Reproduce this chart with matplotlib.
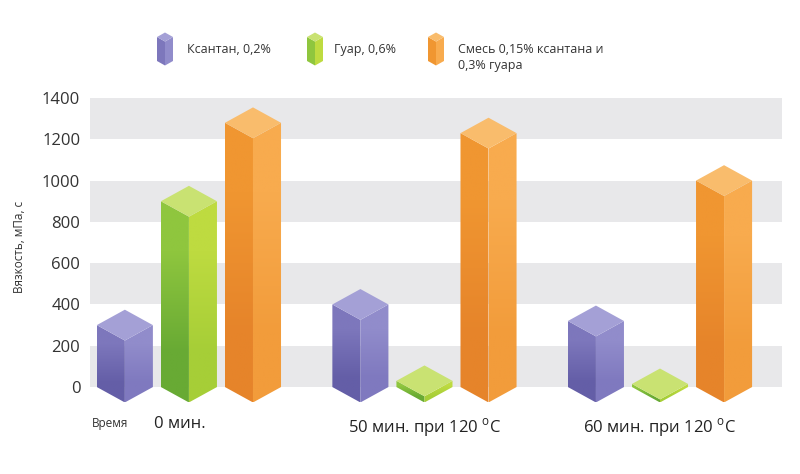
import numpy as np
import matplotlib.pyplot as plt
import matplotlib.transforms as mtransforms
from matplotlib.patches import Polygon
from matplotlib.colors import to_rgb

groups = ['0 мин.', '50 мин. при 120 $^\\mathregular{o}$C', '60 мин. при 120 $^\\mathregular{o}$C']
series = ['Ксантан, 0,2%', 'Гуар, 0,6%', 'Смесь 0,15% ксантана и\n0,3% гуара']
xanthan = [300, 400, 320]
guar = [900, 30, 15]
mix = [1280, 1230, 1000]
values = [xanthan, guar, mix]
yticks = [0, 200, 400, 600, 800, 1000, 1200, 1400]

# (left bottom, left top, right bottom, right top, top)
palette = [
    ('#645ea7', '#7d77bc', '#7f79bf', '#918ccb', '#a4a0d6'),
    ('#68aa34', '#8fc63e', '#a6ce37', '#bedb40', '#c9e272'),
    ('#e6842a', '#f09631', '#f29c3b', '#f8ab4e', '#f9bc6c'),
]

plt.rcParams['font.family'] = ['Open Sans', 'DejaVu Sans']
W, H = 800, 474
fig = plt.figure(figsize=(8, 4.74), dpi=100)
ax = fig.add_axes([90 / W, 0.1312, 692 / W, 0.7932 - 0.1312])

ymin, ymax = -120, 1400
xmin, xmax = -0.42, 2.518
gap = 0.272
hw = 0.119

for lo in (0, 400, 800, 1200):
    ax.axhspan(lo, lo + 200, color='#e8e8ea', lw=0, zorder=0)

px_x = 692 / (xmax - xmin)
px_y = (0.7932 - 0.1312) * H / (ymax - ymin)
d = hw * px_x * 0.55 / px_y


def grad_face(ax, pts, c0, c1, z):
    poly = Polygon(pts, closed=True, facecolor='none', edgecolor='none', zorder=z)
    ax.add_patch(poly)
    xs = [p[0] for p in pts]
    ys = [p[1] for p in pts]
    img = np.array([[to_rgb(c0)], [to_rgb(c1)]])
    im = ax.imshow(img, extent=(min(xs), max(xs), min(ys), max(ys)), origin='lower',
                   aspect='auto', interpolation='bilinear', zorder=z)
    im.set_clip_path(poly)


def box(ax, xc, v, hw, d, cols, z=3):
    x0, x1 = xc - hw, xc + hw
    left = [(x0, 0), (xc, -d), (xc, v - d), (x0, v)]
    right = [(xc, -d), (x1, 0), (x1, v), (xc, v - d)]
    top = [(x0, v), (xc, v - d), (x1, v), (xc, v + d)]
    grad_face(ax, left, cols[0], cols[1], z)
    grad_face(ax, right, cols[2], cols[3], z)
    ax.add_patch(Polygon(top, closed=True, fc=cols[4], ec='none', zorder=z))


for i, vals in enumerate(values):
    for g, v in enumerate(vals):
        box(ax, g + (i - 1) * gap, v, hw, d, palette[i])

ax.set_xlim(xmin, xmax)
ax.set_ylim(ymin, ymax)
ax.set_yticks(yticks)
ax.set_xticks(range(len(groups)), labels=groups)
ax.tick_params(axis='y', length=0, pad=7, labelsize=12, labelcolor='#333333')
ax.tick_params(axis='x', length=0, pad=3, labelsize=12, labelcolor='#222222')
lab0 = ax.get_xticklabels()[0]
lab0.set_transform(lab0.get_transform() + mtransforms.ScaledTranslation(-0.09, 0, fig.dpi_scale_trans))
for s in ax.spines.values():
    s.set_visible(False)

fig.text(20 / W, 1 - 247 / H, 'Вязкость, мПа, с', rotation=90, ha='center', va='center',
         fontsize=8.5, color='#333333')
fig.text(110 / W, 1 - 424 / H, 'Время', ha='center', va='center', fontsize=8.5, color='#333333')

# legend
ov = fig.add_axes([0, 0, 1, 1])
ov.set_xlim(0, W)
ov.set_ylim(0, H)
ov.axis('off')
icon_x = [165, 315, 436]
text_x = [187, 334, 458]
for i, name in enumerate(series):
    cx = icon_x[i]
    base = H - 61
    h = 24
    dd = 4.5
    cols = palette[i]
    x0, x1 = cx - 8, cx + 8
    ov.add_patch(Polygon([(x0, base), (cx, base - dd), (cx, base + h - dd), (x0, base + h)],
                         fc=cols[1], ec='none'))
    ov.add_patch(Polygon([(cx, base - dd), (x1, base), (x1, base + h), (cx, base + h - dd)],
                         fc=cols[3], ec='none'))
    ov.add_patch(Polygon([(x0, base + h), (cx, base + h - dd), (x1, base + h), (cx, base + h + dd)],
                         fc=cols[4], ec='none'))
    ov.text(text_x[i], H - 43, name, ha='left', va='top', fontsize=9, color='#333333',
            linespacing=1.25)

fig.savefig('out.png', dpi=100)
